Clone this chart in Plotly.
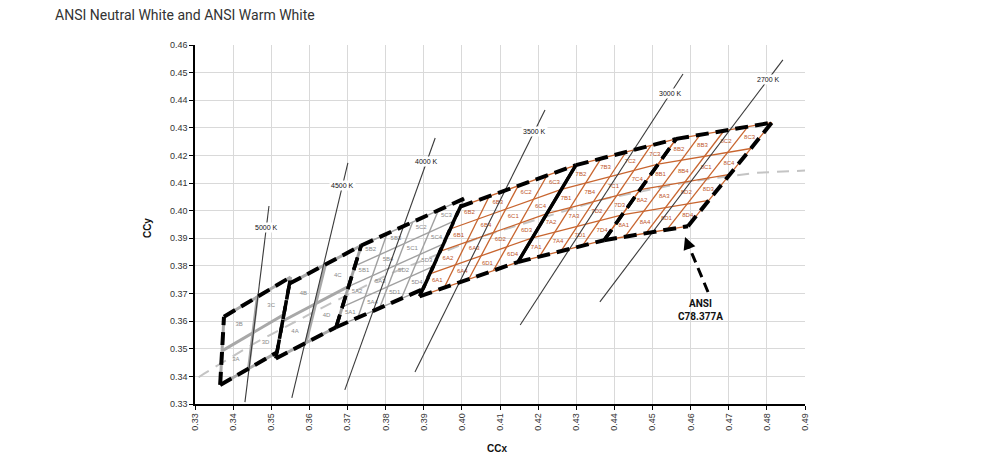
import plotly.graph_objects as go

# ---------------- data ----------------
cct_labels = ["5000 K", "4500 K", "4000 K", "3500 K", "3000 K", "2700 K"]
bin_prefix = ["3", "4", "5", "6", "7", "8"]
bin_div = [2, 2, 4, 4, 4, 4]

# ANSI C78.377 quadrangle corners (top-right, top-left, bottom-left, bottom-right)
tr_x = [0.3551, 0.3736, 0.4006, 0.4299, 0.4562, 0.4813]
tr_y = [0.3760, 0.3874, 0.4044, 0.4165, 0.4260, 0.4319]
tl_x = [0.3376, 0.3548, 0.3736, 0.3996, 0.4299, 0.4562]
tl_y = [0.3616, 0.3736, 0.3874, 0.4015, 0.4165, 0.4260]
bl_x = [0.3366, 0.3512, 0.3670, 0.3889, 0.4147, 0.4373]
bl_y = [0.3369, 0.3465, 0.3578, 0.3690, 0.3814, 0.3893]
br_x = [0.3515, 0.3670, 0.3898, 0.4147, 0.4373, 0.4593]
br_y = [0.3487, 0.3578, 0.3716, 0.3814, 0.3893, 0.3944]

# boundary style between neighbouring quadrangles
boundary_solid = [False, False, False, True, False]

# isotherm (CCT) lines
iso_x0 = [0.3431, 0.3554, 0.3693, 0.3877, 0.4153, 0.4362]
iso_y0 = [0.3307, 0.3322, 0.3351, 0.3416, 0.3586, 0.3670]
iso_x1 = [0.3494, 0.3701, 0.3930, 0.4218, 0.4580, 0.4842]
iso_y1 = [0.4017, 0.4173, 0.4263, 0.4365, 0.4495, 0.4546]

# Planckian locus
planck_x = [0.3135, 0.3221, 0.3324, 0.3451, 0.3611, 0.3805, 0.4053, 0.4369, 0.4599, 0.4770, 0.5018]
planck_y = [0.3236, 0.3318, 0.3410, 0.3516, 0.3633, 0.3768, 0.3907, 0.4041, 0.4106, 0.4137, 0.4153]

# ANSI pointer
arrow_x = [0.46456, 0.45853]
arrow_y = [0.37057, 0.39049]

# ---------------- helpers ----------------
def pt(q, u, v):
    x = ((1 - u) * (1 - v) * bl_x[q] + u * (1 - v) * br_x[q]
         + u * v * tr_x[q] + (1 - u) * v * tl_x[q])
    y = ((1 - u) * (1 - v) * bl_y[q] + u * (1 - v) * br_y[q]
         + u * v * tr_y[q] + (1 - u) * v * tl_y[q])
    return x, y

fig = go.Figure()

def add_lines(segs, color, width, dash="solid"):
    xs, ys = [], []
    for (x0, y0), (x1, y1) in segs:
        xs += [x0, x1, None]
        ys += [y0, y1, None]
    fig.add_trace(go.Scatter(x=xs, y=ys, mode="lines",
                             line=dict(color=color, width=width, dash=dash),
                             hoverinfo="skip", showlegend=False))

# Planckian locus (light gray dashed)
fig.add_trace(go.Scatter(x=planck_x, y=planck_y, mode="lines",
                         line=dict(color="#c4c4c4", width=2, dash="12px,8px"),
                         hoverinfo="skip", showlegend=False))

GRAY_THICK = "#a8a8a8"
GRAY_THIN = "#a0a0a0"
ORANGE = "#c8652f"

lab_gray_x, lab_gray_y, lab_gray_t = [], [], []
lab_or_x, lab_or_y, lab_or_t = [], [], []

quad_letter = {(0, 0): "A", (0, 1): "B", (1, 1): "C", (1, 0): "D"}
sub_num = {(0, 0): "1", (0, 1): "2", (1, 1): "3", (1, 0): "4"}

for q in range(len(cct_labels)):
    n = bin_div[q]
    segs = []
    for k in range(n + 1):
        f = k / n
        segs.append((pt(q, 0, f), pt(q, 1, f)))
        segs.append((pt(q, f, 0), pt(q, f, 1)))
    if q < 2:
        add_lines(segs, GRAY_THICK, 3)
    elif q == 2:
        add_lines(segs, GRAY_THIN, 1.4)
    else:
        add_lines(segs, ORANGE, 1.3)
    for i in range(n):
        for j in range(n):
            cx, cy = pt(q, (i + 0.5) / n, (j + 0.5) / n)
            if n == 2:
                t = bin_prefix[q] + quad_letter[(i, j)]
            else:
                t = bin_prefix[q] + quad_letter[(i // 2, j // 2)] + sub_num[(i % 2, j % 2)]
            if q < 3:
                lab_gray_x.append(cx); lab_gray_y.append(cy); lab_gray_t.append(t)
            else:
                lab_or_x.append(cx); lab_or_y.append(cy); lab_or_t.append(t)

fig.add_trace(go.Scatter(x=lab_gray_x, y=lab_gray_y, text=lab_gray_t, mode="text",
                         textfont=dict(size=6, color="#8a8a8a", family="Liberation Sans"),
                         hoverinfo="skip", showlegend=False))
fig.add_trace(go.Scatter(x=lab_or_x, y=lab_or_y, text=lab_or_t, mode="text",
                         textfont=dict(size=6, color="#c0562a", family="Liberation Sans"),
                         hoverinfo="skip", showlegend=False))

# isotherm lines
iso_segs = [((iso_x0[i], iso_y0[i]), (iso_x1[i], iso_y1[i])) for i in range(len(iso_x0))]
add_lines(iso_segs, "#3a3a3a", 1.1)

# black outline
DASH = "13px,7px"
outer = []
for q in range(len(cct_labels)):
    outer.append((pt(q, 0, 1), pt(q, 1, 1)))
    outer.append((pt(q, 0, 0), pt(q, 1, 0)))
outer.append((pt(0, 0, 0), pt(0, 0, 1)))
outer.append((pt(5, 1, 0), pt(5, 1, 1)))
add_lines(outer, "black", 4, DASH)

dashed_b, solid_b = [], []
for b in range(len(boundary_solid)):
    segs = [(pt(b, 1, 0), pt(b, 1, 1)), (pt(b + 1, 0, 0), pt(b + 1, 0, 1))]
    if boundary_solid[b]:
        solid_b += segs
    else:
        dashed_b += segs
add_lines(dashed_b, "black", 3.5, DASH)
add_lines(solid_b, "black", 3.2)

# ANSI pointer (dashed line + arrowhead)
fig.add_trace(go.Scatter(x=[arrow_x[0], arrow_x[0] + 0.86 * (arrow_x[1] - arrow_x[0])],
                         y=[arrow_y[0], arrow_y[0] + 0.86 * (arrow_y[1] - arrow_y[0])],
                         mode="lines", line=dict(color="black", width=3, dash="10px,6px"),
                         hoverinfo="skip", showlegend=False))

annotations = []
annotations.append(dict(x=arrow_x[1], y=arrow_y[1], ax=5, ay=13, text="", showarrow=True,
                        arrowhead=2, arrowsize=1, arrowwidth=2.5, arrowcolor="black",
                        xref="x", yref="y", axref="pixel", ayref="pixel"))

label_frac = [0.89, 0.906, 0.905, 0.916, 0.924, 0.921]
for i, lab in enumerate(cct_labels):
    lx = iso_x0[i] + label_frac[i] * (iso_x1[i] - iso_x0[i])
    ly = iso_y0[i] + label_frac[i] * (iso_y1[i] - iso_y0[i])
    annotations.append(dict(x=lx, y=ly, text=lab, showarrow=False, bgcolor="white",
                            borderpad=1,
                            font=dict(size=7, color="#111", family="Liberation Sans")))

annotations.append(dict(x=0.4625, y=0.3641, text="<b>ANSI<br>C78.377A</b>", showarrow=False,
                        align="center",
                        font=dict(size=10, color="#111", family="Roboto")))
annotations.append(dict(x=0.495, y=-0.1226, xref="paper", yref="paper", text="<b>CCx</b>",
                        xanchor="center", yanchor="middle",
                        showarrow=False, font=dict(size=10, color="#111", family="Liberation Sans")))
annotations.append(dict(x=-0.0787, y=0.49, xref="paper", yref="paper", text="<b>CCy</b>",
                        xanchor="center", yanchor="middle",
                        textangle=-90, showarrow=False,
                        font=dict(size=10, color="#111", family="Liberation Sans")))

# the page body adds an 8px offset, so the figure is sized to fit the window
fig.update_layout(
    width=992, height=461,
    margin=dict(l=187, r=195, t=37, b=65, autoexpand=False),
    paper_bgcolor="white", plot_bgcolor="white",
    title=dict(text="ANSI Neutral White and ANSI Warm White", x=0.0474, xanchor="left",
               y=0.985, yanchor="middle",
               font=dict(size=14, color="#333", family="Roboto")),
    annotations=annotations,
    showlegend=False,
)
fig.update_xaxes(range=[0.33, 0.49], dtick=0.01, tick0=0.33, tickformat=".2f",
                 tickangle=-90, showgrid=True, gridcolor="#d9d9d9", gridwidth=1,
                 showline=True, linecolor="black", linewidth=1.5, ticks="outside",
                 ticklen=4, tickcolor="black", zeroline=False, automargin=False,
                 tickfont=dict(size=9, color="#333", family="Liberation Sans"))
fig.update_yaxes(range=[0.33, 0.46], dtick=0.01, tick0=0.33, tickformat=".2f",
                 showgrid=True, gridcolor="#d9d9d9", gridwidth=1,
                 showline=True, linecolor="black", linewidth=1.5, ticks="outside",
                 ticklen=4, tickcolor="black", zeroline=False, automargin=False,
                 tickfont=dict(size=9, color="#333", family="Liberation Sans"))

fig.write_html("out.html")
